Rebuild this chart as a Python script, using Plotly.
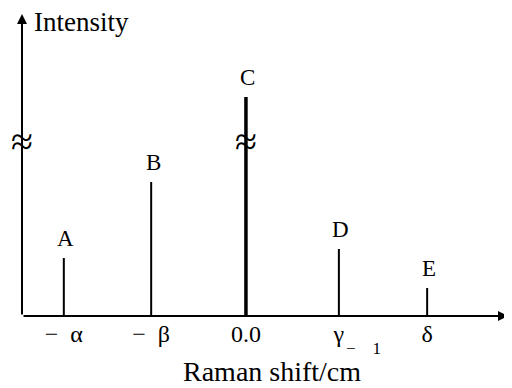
import plotly.graph_objects as go

# peak positions (relative shift units) and intensities (arbitrary units)
peak_names = ["A", "B", "C", "D", "E"]
peak_shift = [-1.96, -1.02, 0.0, 1.0, 1.95]
peak_intensity = [58, 134, 219, 67, 28]

tick_vals = [-1.96, -1.02, 0.0, 1.0, 1.95]
tick_text = ["\u2212\u00a0\u00a0\u03b1", "\u2212\u00a0\u00a0\u03b2", "0.0", "\u03b3", "\u03b4"]

x_range = [-2.41, 2.82]
y_range = [0, 302]
break_level = 175

FONT = "Liberation Serif, Times New Roman, serif"
line_widths = [2, 2, 3.5, 2, 2]

fig = go.Figure()

for name, x, h, w in zip(peak_names, peak_shift, peak_intensity, line_widths):
    fig.add_trace(go.Scatter(
        x=[x, x], y=[0, h], mode="lines",
        line=dict(color="black", width=w),
        hoverinfo="skip", showlegend=False
    ))
    fig.add_annotation(
        x=x, y=h, text=name, showarrow=False,
        yanchor="bottom", yshift=5, xshift=2,
        font=dict(family=FONT, size=23, color="black")
    )

# axis arrows
fig.add_annotation(x=0, y=1, xref="paper", yref="paper", text="",
                   showarrow=True, ax=0, ay=302, arrowhead=2, arrowsize=1,
                   arrowwidth=2, arrowcolor="black", standoff=0)
fig.add_annotation(x=1, y=0, xref="paper", yref="paper", text="",
                   showarrow=True, ax=-486, ay=0, arrowhead=2, arrowsize=1,
                   arrowwidth=2, arrowcolor="black", standoff=0)

# break marks on the y axis and on peak C
for bx in [x_range[0], 0.0]:
    fig.add_annotation(x=bx, y=break_level, text="\u2248", showarrow=False,
                       font=dict(family=FONT, size=40, color="black"))

fig.add_annotation(x=0, y=1, xref="paper", yref="paper", text="Intensity",
                   showarrow=False, xanchor="left", yanchor="middle",
                   xshift=10, yshift=-8,
                   font=dict(family=FONT, size=27, color="black"))

fig.add_annotation(x=0.0, y=0, yref="paper", text="Raman shift/cm",
                   showarrow=False, xanchor="center", yanchor="middle",
                   xshift=26, yshift=-55,
                   font=dict(family=FONT, size=28, color="black"))
fig.add_annotation(x=0.0, y=0, yref="paper", text="\u2212\u00a0\u00a0\u00a0\u00a01",
                   showarrow=False, xanchor="center", yanchor="middle",
                   xshift=118, yshift=-32,
                   font=dict(family=FONT, size=17, color="black"))

# the page body has an 8px margin, so the figure is shrunk to fit the window
fig.update_layout(
    width=504, height=380,
    margin=dict(l=14, r=4, t=6, b=72),
    paper_bgcolor="white", plot_bgcolor="white",
    xaxis=dict(range=x_range, tickvals=tick_vals, ticktext=tick_text,
               showgrid=False, zeroline=False, showline=False,
               tickfont=dict(family=FONT, size=24, color="black"), ticks="",
               ticklabelstandoff=1),
    yaxis=dict(range=y_range, showticklabels=False, showgrid=False,
               zeroline=False, showline=False),
)

fig.write_html("out.html")
